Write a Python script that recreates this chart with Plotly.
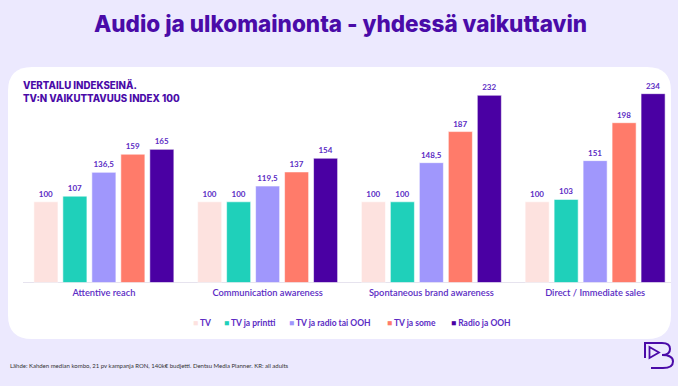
import plotly.graph_objects as go

W, H = 678, 386

categories = ["Attentive reach", "Communication awareness", "Spontaneous brand awareness", "Direct / Immediate sales"]
series_names = ["TV", "TV ja printti", "TV ja radio tai OOH", "TV ja some", "Radio ja OOH"]
tv = [100, 100, 100, 100]
tv_printti = [107, 100, 100, 103]
tv_radio_ooh = [136.5, 119.5, 148.5, 151]
tv_some = [159, 137, 187, 198]
radio_ooh = [165, 154, 232, 234]
series_values = [tv, tv_printti, tv_radio_ooh, tv_some, radio_ooh]
colors = ["#FDE2DF", "#1FD0BA", "#A097FC", "#FF7B6A", "#4A00A3"]

PURPLE = "#4A0BA8"
LABEL = "#5B2CC4"
FONT = "Lato"
TFONT = "Inter"


def fmt(v):
    return f"{v:g}".replace(".", ",")


def px(x):
    return x / W


def py(y):
    return 1 - y / H


fig = go.Figure()
for name, vals, col in zip(series_names, series_values, colors):
    fig.add_trace(go.Bar(
        name=name, x=categories, y=vals,
        marker=dict(color=col, line=dict(color="rgba(255,255,255,0.7)", width=0.8)),
        text=[fmt(v) for v in vals], textposition="outside",
        textfont=dict(family=FONT, size=8, color=LABEL, weight="bold"),
        cliponaxis=False, showlegend=False, hoverinfo="skip",
    ))

# card background (rounded rectangle)
x0, x1, y0, y1, r = 8, 671, 67, 339, 24
rx, ry = r / W, r / H
card = (f"M{px(x0)+rx},{py(y0)} L{px(x1)-rx},{py(y0)} Q{px(x1)},{py(y0)} {px(x1)},{py(y0)-ry} "
        f"L{px(x1)},{py(y1)+ry} Q{px(x1)},{py(y1)} {px(x1)-rx},{py(y1)} "
        f"L{px(x0)+rx},{py(y1)} Q{px(x0)},{py(y1)} {px(x0)},{py(y1)+ry} "
        f"L{px(x0)},{py(y0)-ry} Q{px(x0)},{py(y0)} {px(x0)+rx},{py(y0)} Z")
shapes = [dict(type="path", path=card, xref="paper", yref="paper", fillcolor="white",
               line=dict(width=0), layer="below")]
# baseline
shapes.append(dict(type="line", xref="paper", yref="paper", x0=px(23), x1=px(671), y0=py(282.5), y1=py(282.5),
                   line=dict(color="#E6E3EE", width=1), layer="below"))


def P(x, y):
    return f"{px(x)},{py(y)}"


logo = (f"M{P(645,358)} L{P(645,343)} L{P(662,343)} Q{P(670,343)} {P(670,349)} Q{P(670,355)} {P(662,355)} "
        f"Q{P(673,355)} {P(673,361.5)} Q{P(673,368)} {P(663,368)} L{P(651,368)}")
shapes.append(dict(type="path", path=logo, xref="paper", yref="paper", line=dict(color=PURPLE, width=2)))
tri = f"M{P(649.5,347)} L{P(659,352.5)} L{P(649.5,358)} Z"
shapes.append(dict(type="path", path=tri, xref="paper", yref="paper", line=dict(color=PURPLE, width=1.8)))

annotations = [
    dict(text="Audio ja ulkomainonta - yhdessä vaikuttavin", x=px(340), y=py(23.5), xref="paper", yref="paper",
         xanchor="center", yanchor="middle", showarrow=False,
         font=dict(family=TFONT, size=22.5, color=PURPLE, weight=800)),
    dict(text="VERTAILU INDEKSEINÄ.<br>TV:N VAIKUTTAVUUS INDEX 100", x=px(21), y=py(91.5), xref="paper", yref="paper",
         xanchor="left", yanchor="middle", align="left", showarrow=False,
         font=dict(family=TFONT, size=9.7, color=PURPLE, weight=800)),
    dict(text="Lähde: Kahden median kombo, 21 pv kampanja RON, 140k€ budjetti. Dentsu Media Planner. KR: all adults",
         x=px(8), y=py(365), xref="paper", yref="paper", xanchor="left", yanchor="middle", showarrow=False,
         font=dict(family=FONT, size=6, color="#333333")),
]
legend_x = [191, 222, 287, 385, 449]
for name, col, lx in zip(series_names, colors, legend_x):
    annotations.append(dict(
        text=f'<span style="color:{col}">■</span> {name}', x=px(lx), y=py(322.5), xref="paper", yref="paper",
        xanchor="left", yanchor="middle", showarrow=False,
        font=dict(family=FONT, size=8.5, color=LABEL, weight="bold")))

fig.update_layout(
    width=W, height=H, margin=dict(l=0, r=0, t=0, b=0),
    paper_bgcolor="#ECE9FE", plot_bgcolor="rgba(0,0,0,0)",
    barmode="group", bargap=0.115, bargroupgap=0.17,
    xaxis=dict(domain=[px(22), px(677)], showline=False, showgrid=False, ticks="", ticklabelstandoff=3,
               tickfont=dict(family=FONT, size=9.3, color=LABEL, weight=600), fixedrange=True),
    yaxis=dict(domain=[py(282.5), py(80.75)], range=[0, 250], visible=False, fixedrange=True),
    shapes=shapes, annotations=annotations, showlegend=False, hovermode=False,
)

fig.write_html("out.html", config={"displayModeBar": False},
               post_script="document.body.style.margin='0';document.body.style.background='#ECE9FE';")
